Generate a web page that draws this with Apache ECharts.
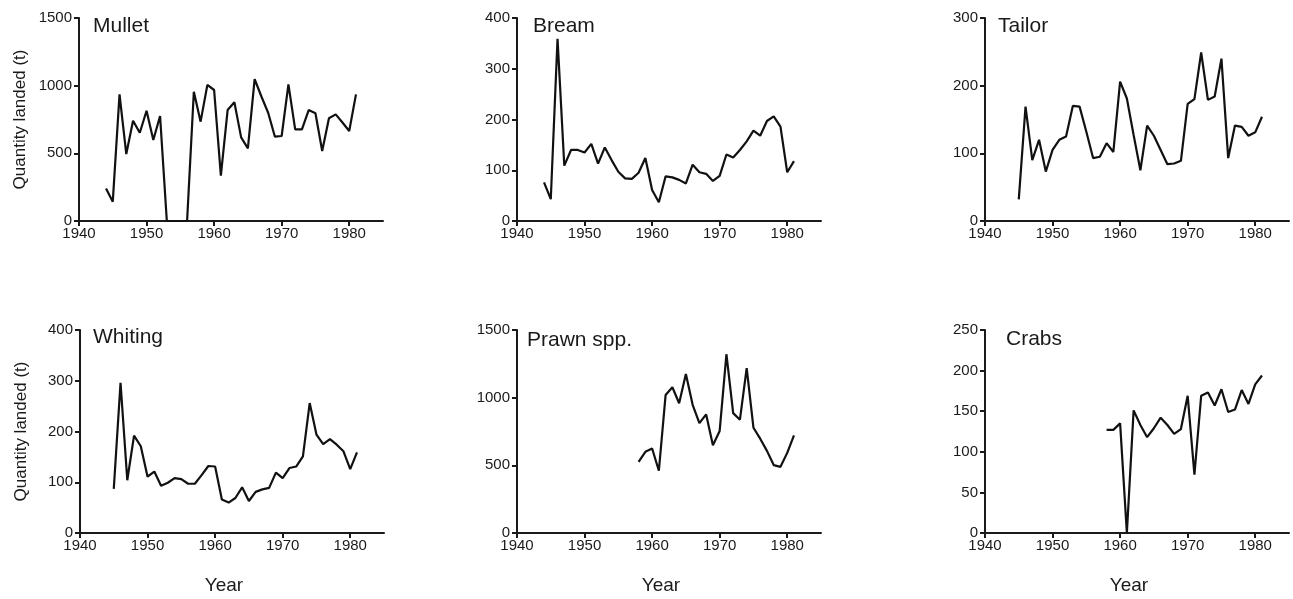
<!DOCTYPE html>
<html>
<head>
<meta charset="utf-8">
<title>Quantity landed</title>
<script src="https://cdn.jsdelivr.net/npm/echarts@6/dist/echarts.min.js"></script>
<style>
html, body { margin: 0; padding: 0; background: #fff; }
#chart { width: 1293px; height: 599px; }
</style>
</head>
<body>
<div id="chart"></div>
<script>
// years for each series
function range(a, b) { var r = []; for (var i = a; i <= b; i++) r.push(i); return r; }
var mulletYears = range(1944, 1981);
var breamYears = range(1944, 1981);
var tailorYears = range(1945, 1981);
var whitingYears = range(1945, 1981);
var prawnYears = range(1958, 1981);
var crabsYears = range(1958, 1981);

// quantity landed (t)
var mullet = [241, 143, 936, 495, 741, 652, 815, 598, 776, 0, 0, 0, 0, 955, 734, 1005, 968, 335, 820, 877,
    618, 537, 1049, 920, 800, 623, 628, 1010, 677, 677, 820, 796, 517, 759, 788, 728, 665, 936];
var bream = [76, 43, 359, 109, 140, 140, 135, 152, 113, 145, 120, 97, 84, 83, 95, 124, 61, 37, 88, 86,
    81, 74, 111, 96, 93, 79, 89, 131, 125, 140, 157, 178, 168, 197, 206, 186, 96, 118];
var tailor = [32, 169, 90, 120, 73, 105, 120, 125, 170, 169, 132, 93, 95, 115, 102, 206, 181, 127, 75, 141,
    126, 105, 84, 85, 89, 173, 180, 249, 179, 184, 240, 93, 141, 139, 126, 131, 154];
var whiting = [87, 296, 104, 192, 171, 111, 121, 93, 99, 108, 106, 97, 97, 114, 132, 131, 66, 60, 69, 90,
    63, 81, 86, 89, 119, 108, 128, 131, 151, 256, 194, 175, 185, 174, 161, 126, 159];
var prawn = [526, 600, 624, 460, 1020, 1077, 959, 1175, 947, 812, 876, 648, 754, 1321, 886, 837, 1219, 778,
    697, 607, 502, 489, 592, 722];
var crabs = [127, 127, 135, 0, 151, 133, 118, 129, 142, 133, 122, 128, 169, 72, 169, 173, 157, 177, 149,
    152, 176, 159, 183, 194];

var names = ['Mullet', 'Bream', 'Tailor', 'Whiting', 'Prawn spp.', 'Crabs'];
var yMax = [1500, 400, 300, 400, 1500, 250];
var yStep = [500, 100, 100, 100, 500, 50];
var xTicks = [1940, 1950, 1960, 1970, 1980];

var panels = [
    { years: mulletYears, vals: mullet, left: 79, top: 18, tx: 93, ty: 16 },
    { years: breamYears, vals: bream, left: 517, top: 18, tx: 533, ty: 16 },
    { years: tailorYears, vals: tailor, left: 985, top: 18, tx: 998, ty: 16 },
    { years: whitingYears, vals: whiting, left: 80, top: 330, tx: 93, ty: 327 },
    { years: prawnYears, vals: prawn, left: 517, top: 330, tx: 527, ty: 330 },
    { years: crabsYears, vals: crabs, left: 985, top: 330, tx: 1006, ty: 329 }
];

var font = 'Liberation Sans, Arial, Helvetica, sans-serif';
var ink = '#1a1a1a';
var plain = function (v) { return String(v); };

var myChart = echarts.init(document.getElementById('chart'));

var grid = [], xAxis = [], yAxis = [], series = [], title = [];
panels.forEach(function (p, i) {
    grid.push({ left: p.left, top: p.top, width: 304, height: 203 });
    title.push({
        text: names[i], left: p.tx, top: p.ty, padding: 0,
        textStyle: { fontFamily: font, fontSize: 21, fontWeight: 'normal', color: ink }
    });
    xAxis.push({
        type: 'value', gridIndex: i, min: 1940, max: 1985,
        name: i >= 3 ? 'Year' : '',
        nameLocation: 'middle', nameGap: 43,
        nameTextStyle: { fontFamily: font, fontSize: 19, color: ink, padding: [0, 16, 0, 0] },
        axisLine: { lineStyle: { color: ink, width: 2 } },
        axisTick: { length: 5, lineStyle: { color: ink, width: 2 }, customValues: xTicks },
        axisLabel: { fontFamily: font, fontSize: 15, color: ink, margin: 5, customValues: xTicks, formatter: plain },
        splitLine: { show: false }
    });
    yAxis.push({
        type: 'value', gridIndex: i, min: 0, max: yMax[i], interval: yStep[i],
        name: (i % 3 === 0) ? 'Quantity landed (t)' : '',
        nameLocation: 'middle', nameGap: 50,
        nameTextStyle: { fontFamily: font, fontSize: 17, color: ink },
        axisLine: { show: true, lineStyle: { color: ink, width: 2 } },
        axisTick: { show: true, length: 5, lineStyle: { color: ink, width: 2 } },
        axisLabel: { fontFamily: font, fontSize: 15, color: ink, margin: 7, formatter: plain },
        splitLine: { show: false }
    });
    series.push({
        name: names[i], type: 'line', xAxisIndex: i, yAxisIndex: i,
        data: p.years.map(function (y, k) { return [y, p.vals[k]]; }),
        showSymbol: false, symbol: 'none',
        lineStyle: { color: '#111', width: 2.2 },
        animation: false
    });
});

var option = {
    backgroundColor: '#fff',
    animation: false,
    title: title,
    grid: grid,
    xAxis: xAxis,
    yAxis: yAxis,
    series: series
};

myChart.setOption(option);
</script>
</body>
</html>
